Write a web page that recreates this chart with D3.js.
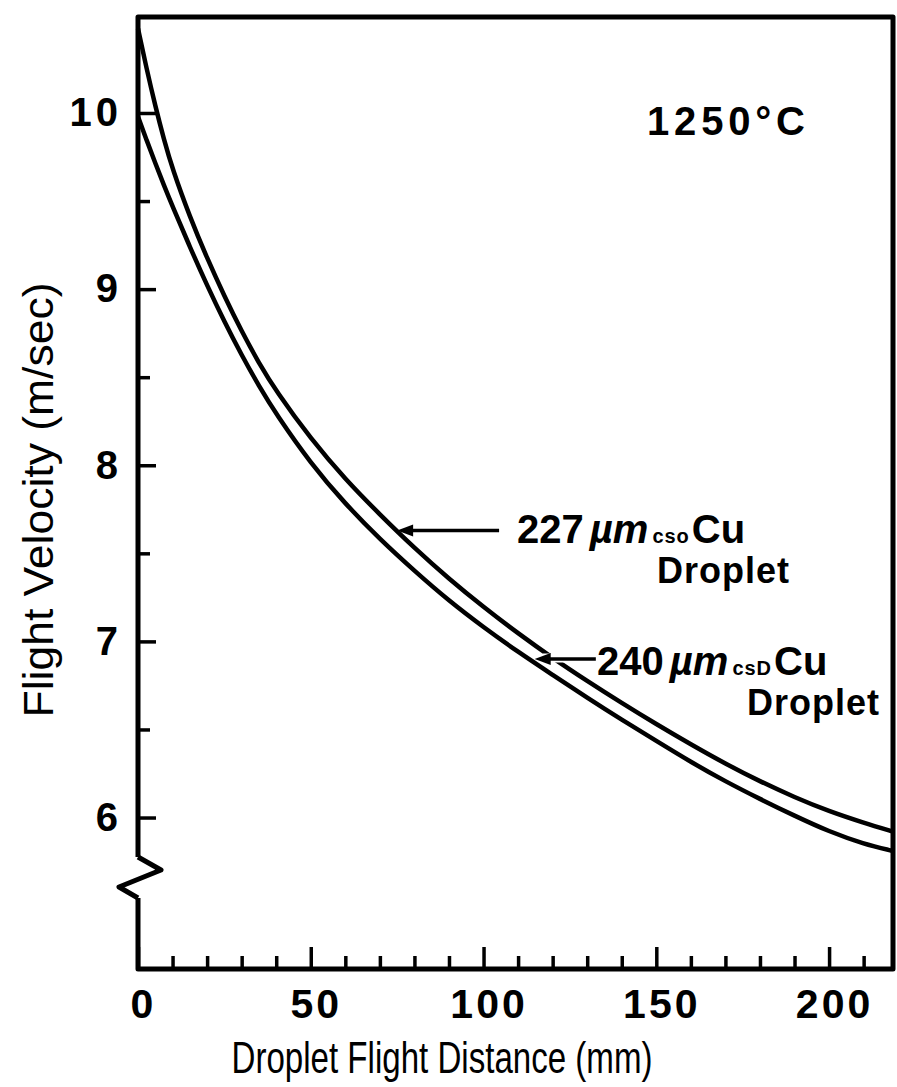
<!DOCTYPE html>
<head>
    <script src="https://d3js.org/d3.v7.min.js"></script>
    <title>Flight Velocity vs Droplet Flight Distance</title>
    <style>
        body { margin: 0; background: white; }
        text { font-family: "Liberation Sans", Arial, sans-serif; fill: black; }
    </style>
</head>
<body>
<svg class="chart" width="897" height="1087" style="background-color: white"></svg>
<script>
    // values (distance in mm, velocity in m/sec)
    const distance = [0, 2.5, 5, 7.5, 10, 15, 20, 25, 30, 35, 40, 50, 60, 70, 80, 90, 100,
        110, 120, 130, 140, 150, 160, 170, 180, 190, 200, 210, 218.5];
    const velocity227 = [10.48, 10.25, 10.04, 9.85, 9.68, 9.41, 9.175, 8.96, 8.76, 8.58, 8.42, 8.15, 7.92, 7.72, 7.53, 7.355, 7.195,
        7.045, 6.905, 6.775, 6.65, 6.53, 6.415, 6.305, 6.205, 6.115, 6.035, 5.97, 5.92];
    const velocity240 = [9.98, 9.845, 9.715, 9.59, 9.47, 9.24, 9.02, 8.815, 8.625, 8.45, 8.29, 8.01, 7.78, 7.58, 7.40, 7.23, 7.08,
        6.94, 6.81, 6.68, 6.555, 6.435, 6.315, 6.205, 6.105, 6.01, 5.92, 5.85, 5.81];

    const xMajorTicks = [0, 50, 100, 150, 200];
    const xMinorTicks = [10, 20, 30, 40, 60, 70, 80, 90, 110, 120, 130, 140, 160, 170, 180, 190, 210];
    const yMajorTicks = [6, 7, 8, 9, 10];
    const yMinorTicks = [6.5, 7.5, 8.5, 9.5];

    const margin = {top: 17, right: 4, bottom: 118, left: 138},
        width = 897 - margin.left - margin.right,
        height = 1087 - margin.top - margin.bottom;

    const svg = d3.select(".chart")
        .append("g")
        .attr("transform", "translate(" + margin.left + "," + margin.top + ")");

    const x = d3.scaleLinear().domain([0, 218.5]).range([0, width]);
    const y = d3.scaleLinear().domain([5.14, 10.545]).range([height, 0]);

    // x axis (ticks point up into the plot)
    const xMajor = svg.append("g")
        .attr("transform", "translate(0," + height + ")")
        .call(d3.axisBottom(x).tickValues(xMajorTicks).tickSize(-22).tickPadding(20));
    xMajor.selectAll("text")
        .style("font-size", "41px").style("font-weight", "bold")
        .style("letter-spacing", "3px").attr("dx", 5);
    svg.append("g")
        .attr("transform", "translate(0," + height + ")")
        .call(d3.axisBottom(x).tickValues(xMinorTicks).tickSize(-13).tickFormat(""));

    // y axis (ticks point right into the plot)
    const yMajor = svg.append("g")
        .call(d3.axisLeft(y).tickValues(yMajorTicks).tickFormat(d3.format("d"))
            .tickSize(-18).tickPadding(16));
    yMajor.selectAll("text")
        .style("font-size", "40px").style("font-weight", "bold")
        .style("letter-spacing", "4px");
    svg.append("g")
        .call(d3.axisLeft(y).tickValues(yMinorTicks).tickSize(-12).tickFormat(""));

    svg.selectAll(".domain").remove();
    svg.selectAll(".tick line").attr("stroke", "black").attr("stroke-width", 3.5);

    // frame, with the break on the left axis
    const breakTop = 857 - margin.top, breakBottom = 898 - margin.top;
    const frame = svg.append("g").attr("fill", "none").attr("stroke", "black")
        .attr("stroke-width", 5).attr("stroke-linejoin", "round");
    frame.append("path")
        .attr("d", "M0," + breakTop + "V0H" + width + "V" + height + "H0V" + breakBottom);
    frame.append("path")
        .attr("d", "M0," + breakTop + "l23,13l-42,17l19,11");

    // curves
    const line = d3.line().curve(d3.curveBasis);
    const curves = [velocity227, velocity240];
    svg.append("g").selectAll("path")
        .data(curves)
        .enter()
        .append("path")
        .attr("d", function(v){ return line(distance.map(function(d, i){ return [x(d), y(v[i])]; })); })
        .attr("fill", "none")
        .attr("stroke", "black")
        .attr("stroke-width", 4.5);

    // arrows pointing at the curves
    const arrowTip = [[75, 7.63], [114.8, 6.90]];
    const arrowTail = [104.5, 132.5];

    // gap in the upper curve where the lower arrow crosses it
    svg.append("line")
        .attr("x1", x(arrowTip[1][0]) + 8).attr("x2", x(arrowTail[1]) - 18)
        .attr("y1", y(arrowTip[1][1]) - 1).attr("y2", y(arrowTip[1][1]) - 1)
        .attr("stroke", "white").attr("stroke-width", 9);

    arrowTip.forEach(function(t, i){
        const tx = x(t[0]), ty = y(t[1]);
        svg.append("line")
            .attr("x1", tx + 8).attr("y1", ty)
            .attr("x2", x(arrowTail[i])).attr("y2", ty)
            .attr("stroke", "black").attr("stroke-width", 3.5);
        svg.append("path")
            .attr("d", "M" + tx + "," + ty + "l16,-6l0,12z")
            .attr("fill", "black");
    });

    // labels
    const chart = d3.select(".chart");
    chart.append("text").attr("x", 647).attr("y", 135)
        .style("font-size", "40px").style("font-weight", "bold")
        .attr("textLength", 158).attr("lengthAdjust", "spacing")
        .text("1250°C");

    function droplet(xPos, yPos, size, sub, dropX) {
        const t = chart.append("text").attr("x", xPos).attr("y", yPos)
            .style("font-weight", "bold").style("font-size", "40px");
        t.append("tspan").text(size);
        t.append("tspan").style("font-style", "italic").attr("dx", 6).text("µm");
        t.append("tspan").style("font-size", "20px").attr("dx", 4).style("letter-spacing", "1px").text(sub);
        t.append("tspan").attr("dx", 2).text("Cu");
        chart.append("text").attr("x", dropX).attr("y", yPos + 40)
            .style("font-weight", "bold").style("font-size", "36px")
            .style("letter-spacing", "1px")
            .text("Droplet");
    }
    droplet(517, 543, "227", "cso", 657);
    droplet(597, 675, "240", "csD", 747);

    // axis titles
    chart.append("text")
        .attr("x", 442).attr("y", 1073)
        .attr("text-anchor", "middle")
        .style("font-size", "44px")
        .attr("textLength", 421).attr("lengthAdjust", "spacingAndGlyphs")
        .text("Droplet Flight Distance (mm)");

    chart.append("text")
        .attr("transform", "translate(53,500) rotate(-90)")
        .attr("text-anchor", "middle")
        .style("font-size", "43px")
        .attr("textLength", 435).attr("lengthAdjust", "spacingAndGlyphs")
        .text("Flight Velocity (m/sec)");
</script>
</body>
